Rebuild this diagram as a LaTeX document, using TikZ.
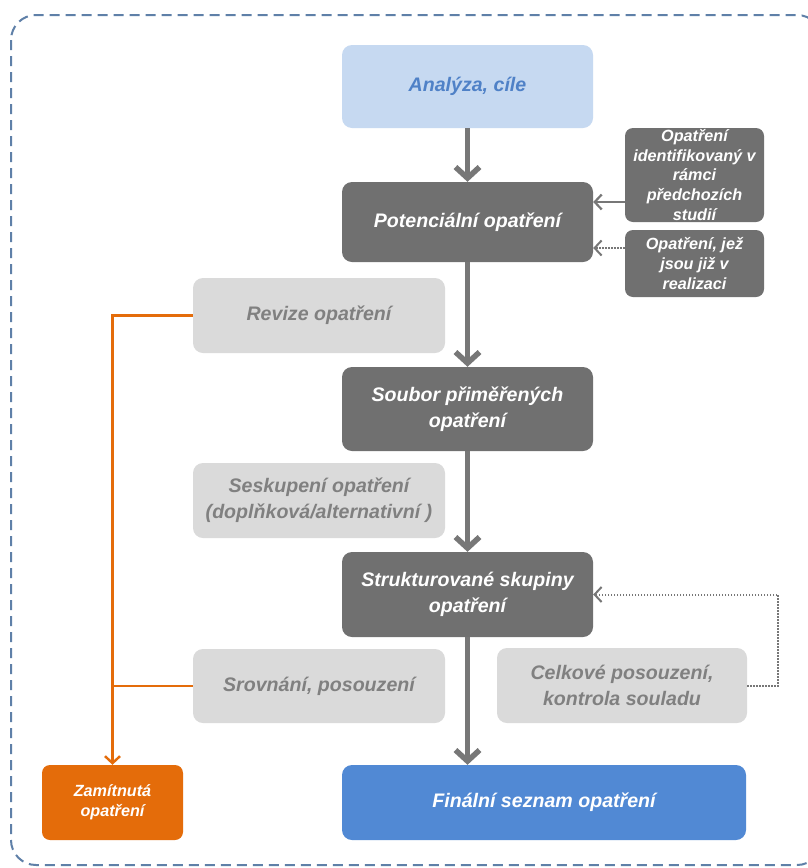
\documentclass[tikz,border=0pt]{standalone}
\usepackage{fontspec}
\setmainfont{Liberation Sans}
\usetikzlibrary{arrows.meta,backgrounds}
\definecolor{darkbox}{HTML}{707070}
\definecolor{lightbox}{HTML}{DADADA}
\definecolor{lighttext}{HTML}{808080}
\definecolor{bluelight}{HTML}{C6D9F1}
\definecolor{bluetext}{HTML}{4F81C7}
\definecolor{bluebox}{HTML}{5189D4}
\definecolor{orangebox}{HTML}{E46C0A}
\definecolor{bordercol}{HTML}{5F80A8}
\definecolor{arrowgray}{HTML}{777777}
\begin{document}
\begin{tikzpicture}[x=1pt,y=-1pt,
  basebox/.style={rounded corners=10pt, align=center, inner sep=0pt,
    font=\fontsize{19.6}{26}\selectfont\bfseries\itshape},
  darkstep/.style={basebox, fill=darkbox, text=white},
  lightstep/.style={basebox, fill=lightbox, text=lighttext},
  smallstep/.style={basebox, rounded corners=8pt, fill=darkbox, text=white,
    font=\fontsize{16.2}{19.6}\selectfont\bfseries\itshape},
  thickarrow/.style={draw=arrowgray, line width=5.5pt, -{Straight Barb[length=11pt,width=24pt]}},
  thinarrow/.style={draw=arrowgray, line width=2.2pt, -{Straight Barb[length=7pt,width=15pt]}},
  dotarrow/.style={draw=arrowgray, line width=2pt, dash pattern=on 1.6pt off 1.4pt, -{Straight Barb[length=7pt,width=15pt]}},
  orangeline/.style={draw=orangebox, line width=2.4pt}
]
\useasboundingbox (0,0) rectangle (808,868);
\fill[white] (0,0) rectangle (808,868);
\draw[bordercol, line width=2pt, dash pattern=on 10pt off 6pt, rounded corners=25pt]
  (11,15) rectangle (822,865);

\node[basebox, fill=bluelight, text=bluetext, minimum width=251pt, minimum height=83pt] (ana) at (467.5,86.5) {Analýza, cíle};
\node[darkstep, minimum width=251pt, minimum height=80pt] (pot) at (467.5,222) {Potenciální opatření};
\node[darkstep, minimum width=251pt, minimum height=84pt] (soub) at (467.5,409) {Soubor přiměřených\\opatření};
\node[darkstep, minimum width=251pt, minimum height=85pt] (strk) at (467.5,594.5) {Strukturované skupiny\\opatření};
\node[basebox, fill=bluebox, text=white, minimum width=404pt, minimum height=75pt] (fin) at (544,802.5) {Finální seznam opatření};
\node[lightstep, minimum width=252pt, minimum height=75pt] (rev) at (319,315.5) {Revize opatření};
\node[lightstep, minimum width=252pt, minimum height=75pt] (sesk) at (319,500.5) {Seskupení opatření\\(doplňková/alternativní )};
\node[lightstep, minimum width=252pt, minimum height=74pt] (srov) at (319,686) {Srovnání, posouzení};
\node[lightstep, minimum width=250pt, minimum height=75pt] (celk) at (622,685.5) {Celkové posouzení,\\kontrola souladu};
\node[smallstep, fill=orangebox, minimum width=141pt, minimum height=75pt] (zam) at (112.5,802.5) {Zamítnutá\\opatření};
\node[smallstep, minimum width=139pt, minimum height=94pt] (s1) at (694.5,175) {Opatření\\identifikovaný v\\rámci\\předchozích\\studií};
\node[smallstep, minimum width=139pt, minimum height=67pt] (s2) at (694.5,263.5) {Opatření, jež\\jsou již v\\realizaci};

\begin{scope}[on background layer]
  \draw[thinarrow] (s2.south) -- (s2.south |- fin.north);
\end{scope}

\draw[thickarrow] (ana) -- (pot);
\draw[thickarrow] (pot) -- (soub);
\draw[thickarrow] (soub) -- (strk);
\draw[thickarrow] (strk.south) -- (strk.south |- fin.north);

\draw[thinarrow] ([yshift=-27pt]s1.west) coordinate (t1) -- (t1 -| pot.east);
\draw[dotarrow] ([yshift=15.5pt]s2.west) coordinate (t2) -- (t2 -| pot.east);
\draw[dotarrow] (celk.east) -- ++(31,0) |- (strk.east);

\draw[orangeline, -{Straight Barb[length=7pt,width=15pt]}] (rev.west) -| (zam.north);
\draw[orangeline] (srov.west) -- (srov.west -| zam.north);
\end{tikzpicture}
\end{document}
